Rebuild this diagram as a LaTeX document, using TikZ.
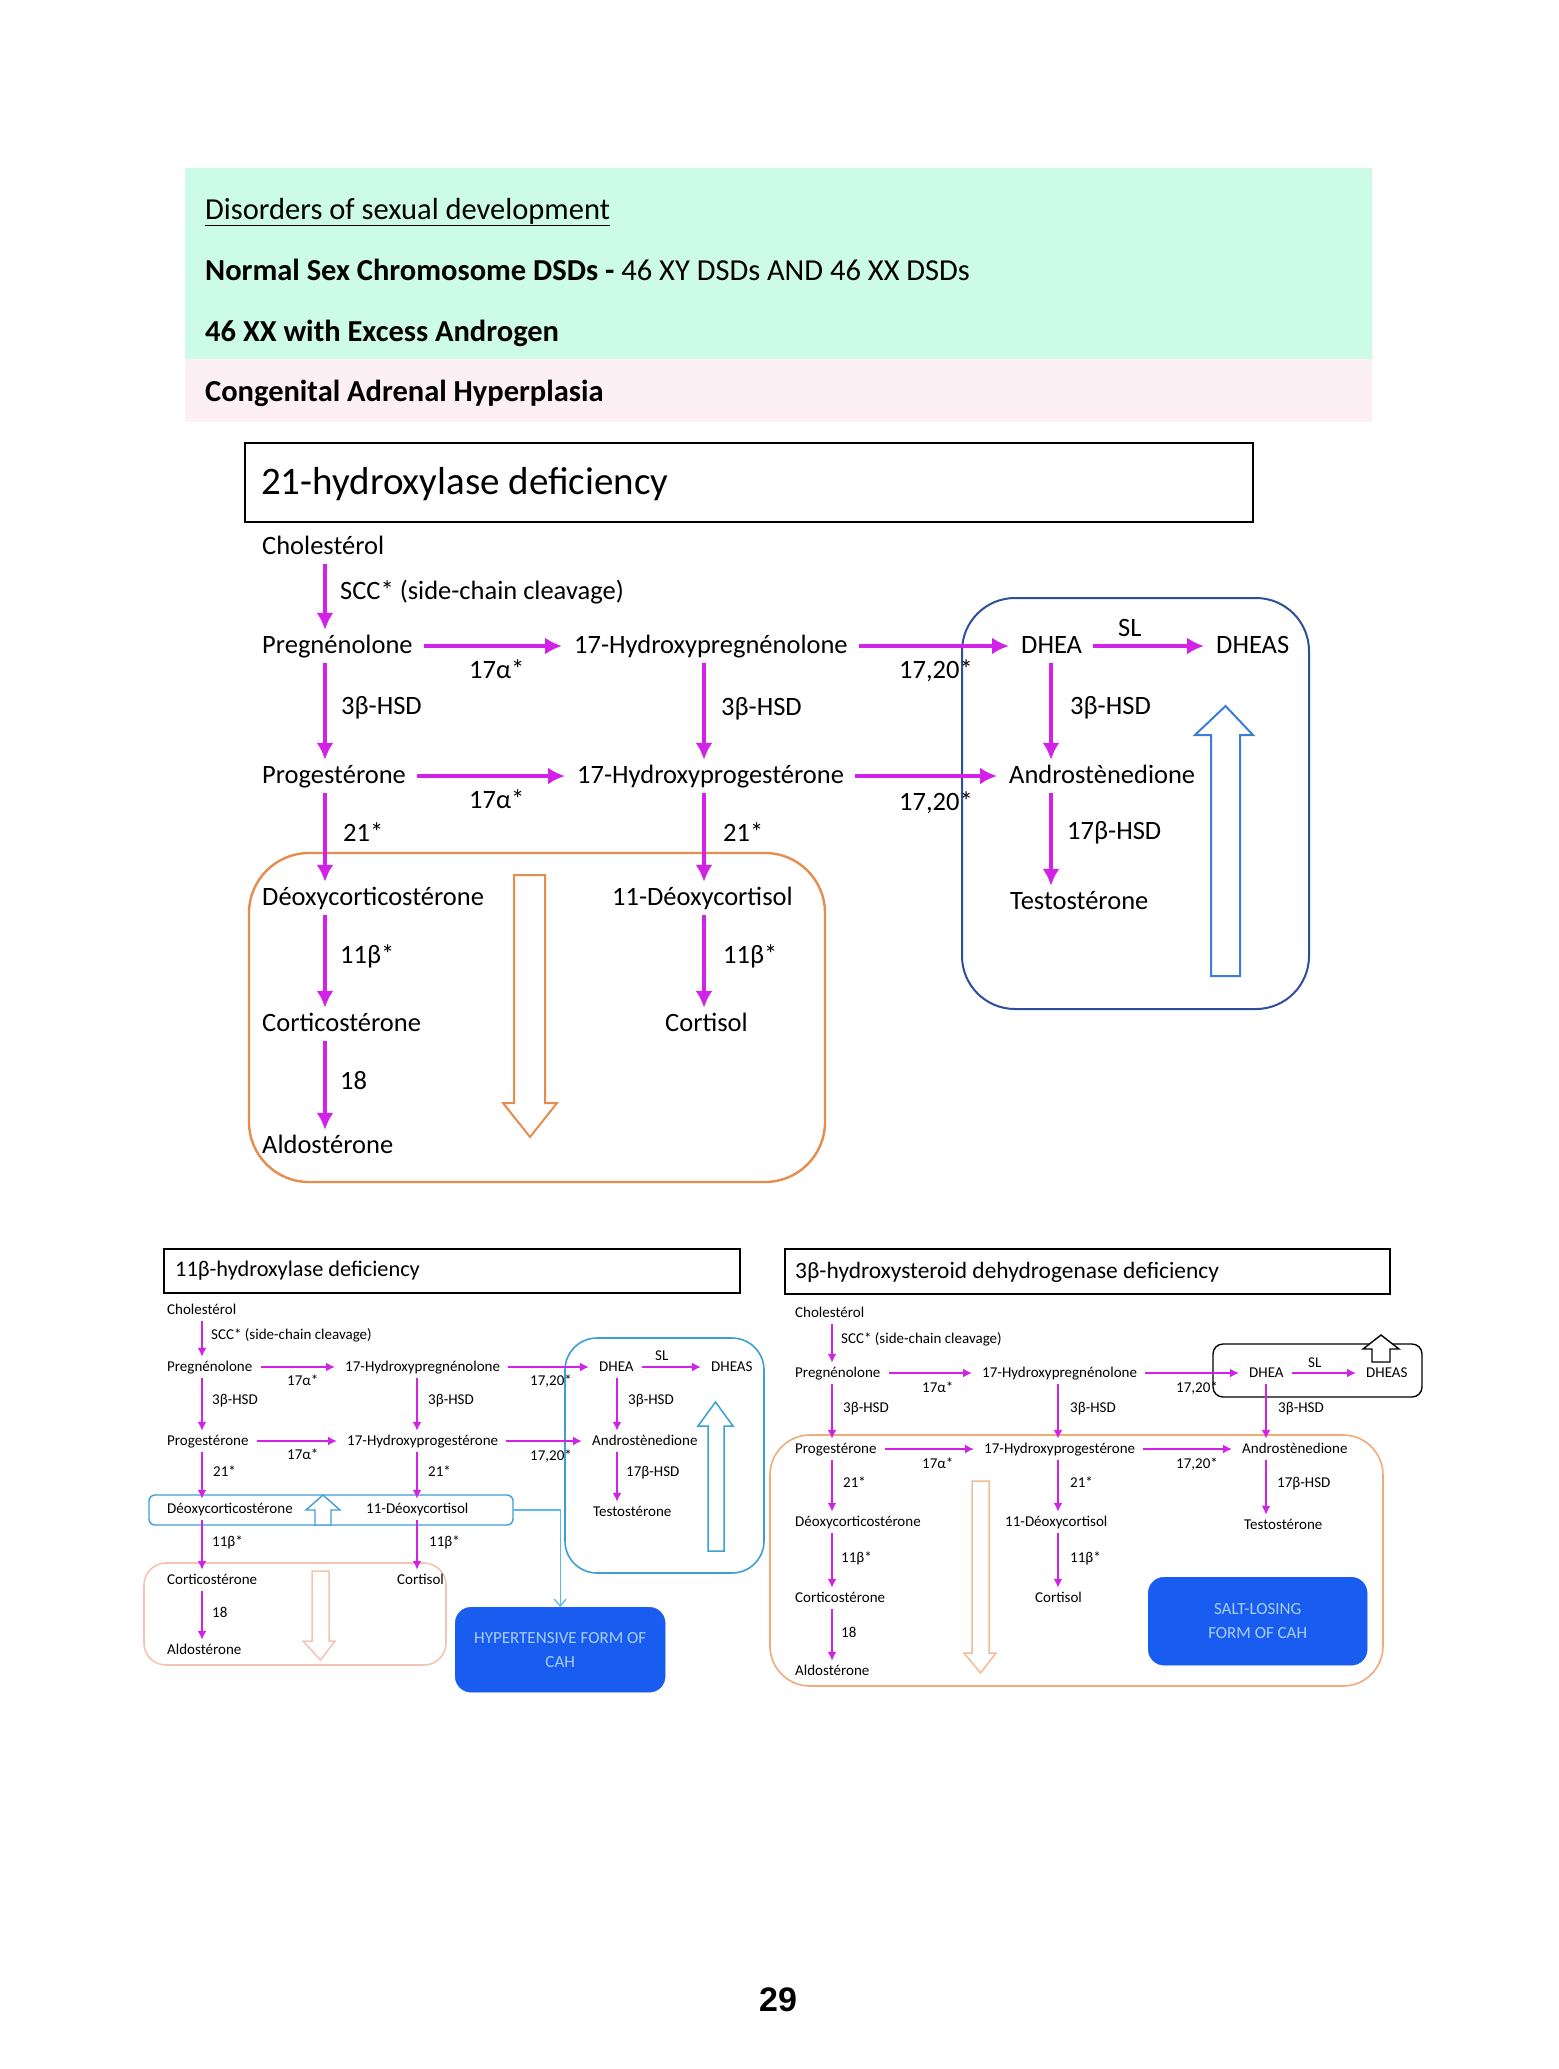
\documentclass[tikz,border=0pt]{standalone}
\usepackage{fontspec}
\setmainfont{Carlito}
\newfontfamily\arialfont{Liberation Sans}
\usetikzlibrary{arrows.meta}
\definecolor{mag}{RGB}{210,34,232}
\definecolor{hgreen}{RGB}{204,251,232}
\definecolor{hpink}{RGB}{253,240,245}
\definecolor{navybox}{RGB}{46,78,158}
\definecolor{orbox}{RGB}{232,140,78}
\definecolor{blarrow}{RGB}{60,125,216}
\definecolor{ltblue}{RGB}{62,158,214}
\definecolor{ltorange}{RGB}{244,196,178}
\definecolor{orbox3}{RGB}{240,170,122}
\definecolor{cahblue}{RGB}{24,92,240}
\definecolor{cahtext}{RGB}{170,205,252}
\begin{document}
\begin{tikzpicture}[x=1pt,y=-1pt,
  M/.style={anchor=west, inner sep=1pt, font=\fontsize{26.5}{30}\selectfont, text height=19pt, text depth=5pt},
  S/.style={anchor=west, inner sep=1pt, font=\fontsize{15}{18}\selectfont, text height=11pt, text depth=3pt},
  hd/.style={anchor=west, inner sep=1pt, font=\fontsize{30.5}{34}\selectfont, text height=22pt, text depth=6pt},
  am/.style={draw=mag, line width=3.2pt, -{Latex[length=17pt,width=17pt]}, shorten <=4pt, shorten >=3pt},
  ahm/.style={draw=mag, line width=3.2pt, -{Latex[length=17pt,width=17pt]}, shorten <=10pt, shorten >=11pt},
  as/.style={draw=mag, line width=1.8pt, -{Latex[length=9pt,width=9pt]}, shorten <=3pt, shorten >=2pt},
  ahs/.style={draw=mag, line width=1.8pt, -{Latex[length=9pt,width=9pt]}, shorten <=7pt, shorten >=9pt},
  cah/.style={fill=cahblue, draw=cahblue, rounded corners=16pt},
  cahtxt/.style={text=cahtext, align=center, font=\fontsize{17}{24}\selectfont, inner sep=0pt}
]
\useasboundingbox (0,0) rectangle (1558,2069);

% ---------------- header ----------------
\fill[hgreen] (185,168) rectangle (1372,359);
\fill[hpink] (185,359) rectangle (1372,422);
\node[hd] (h1) at (204,211) {\underline{Disorders of sexual development}};
\node[hd] (h2) at (204,272) {\textbf{Normal Sex Chromosome DSDs -} 46 XY DSDs AND 46 XX DSDs};
\node[hd] (h3) at (204,333) {\textbf{46 XX with Excess Androgen}};
\node[hd] (h4) at (204,393) {\textbf{Congenital Adrenal Hyperplasia}};

% ---------------- main: 21-hydroxylase ----------------
\draw[line width=1.6pt] (245,443) rectangle (1253,522);
\node[anchor=west, inner sep=0pt, font=\fontsize{39}{43}\selectfont] (t1) at (261,484) {21-hydroxylase deficiency};

\draw[navybox, line width=2pt, rounded corners=53pt] (962,598) rectangle (1309,1009);
\draw[orbox, line width=2.4pt, rounded corners=60pt] (249,853) rectangle (825,1182);
% hollow arrows
\draw[orbox, line width=2pt, fill=white] (514,875) -- (545,875) -- (545,1103) -- (557,1103) -- (530,1137) -- (503,1103) -- (514,1103) -- cycle;
\draw[blarrow, line width=2pt, fill=white] (1211,976) -- (1240,976) -- (1240,735) -- (1253,735) -- (1225.5,706) -- (1195,735) -- (1211,735) -- cycle;

\node[M] (chol) at (261,547) {Cholestérol};
\node[M] (preg) at (261,646) {Pregnénolone};
\node[M] (ohpreg) at (573,646) {17-Hydroxypregnénolone};
\node[M] (dhea) at (1020,646) {DHEA};
\node[M] (dheas) at (1215,646) {DHEAS};
\node[M] (prog) at (261,776) {Progestérone};
\node[M] (ohprog) at (576,776) {17-Hydroxyprogestérone};
\node[M] (andro) at (1008,776) {Androstènedione};
\node[M] (testo) at (1009,902) {Testostérone};
\node[M] (doc) at (261,898) {Déoxycorticostérone};
\node[M] (dc) at (611,898) {11-Déoxycortisol};
\node[M] (cortico) at (261,1024) {Corticostérone};
\node[M] (cortisol) at (664,1024) {Cortisol};
\node[M] (aldo) at (261,1146) {Aldostérone};

\node[M] (e1) at (339,592) {SCC* (side-chain cleavage)};
\node[M] (e2) at (468,671) {17α*};
\node[M] (e3) at (898,671) {17,20*};
\node[M] (e4) at (1117,629) {SL};
\node[M] (e5) at (340,707) {3β-HSD};
\node[M] (e6) at (720,708) {3β-HSD};
\node[M] (e7) at (1069,707) {3β-HSD};
\node[M] (e8) at (468,801) {17α*};
\node[M] (e9) at (898,803) {17,20*};
\node[M] (e10) at (1066,832) {17β-HSD};
\node[M] (e11) at (342,834) {21*};
\node[M] (e12) at (722,834) {21*};
\node[M] (e13) at (339,956) {11β*};
\node[M] (e14) at (722,956) {11β*};
\node[M] (e15) at (339,1082) {18};

\coordinate (ca) at (325,0);
\coordinate (cb) at (704,0);
\coordinate (cc) at (1051,0);
\draw[am] (chol.south -| ca) -- (preg.north -| ca);
\draw[am] (preg.south -| ca) -- (prog.north -| ca);
\draw[am] (prog.south -| ca) -- (doc.north -| ca);
\draw[am] (doc.south -| ca) -- (cortico.north -| ca);
\draw[am] (cortico.south -| ca) -- (aldo.north -| ca);
\draw[am] (ohpreg.south -| cb) -- (ohprog.north -| cb);
\draw[am] (ohprog.south -| cb) -- (dc.north -| cb);
\draw[am] (dc.south -| cb) -- (cortisol.north -| cb);
\draw[am] (dhea.south -| cc) -- (andro.north -| cc);
\draw[am] (andro.south -| cc) -- (testo.north -| cc);
\draw[ahm] (preg.east) -- (ohpreg.west);
\draw[ahm] (ohpreg.east) -- (dhea.west);
\draw[ahm] (dhea.east) -- (dheas.west);
\draw[ahm] (prog.east) -- (ohprog.west);
\draw[ahm] (ohprog.east) -- (andro.west);

% ---------------- 11beta-hydroxylase ----------------
\draw[line width=1.2pt] (164,1249) rectangle (740,1293);
\node[anchor=west, inner sep=0pt, font=\fontsize{22.3}{26}\selectfont] (t2) at (175,1271) {11β-hydroxylase deficiency};

\draw[ltblue, line width=1.6pt, rounded corners=32pt] (565,1338) rectangle (764,1573);
\draw[ltblue, line width=1.4pt, rounded corners=6pt, fill=white] (149,1495) rectangle (513,1525);
\draw[ltorange, line width=1.6pt, rounded corners=22pt] (144,1563) rectangle (446,1665);
\draw[ltblue, line width=1.5pt, fill=white] (708,1551) -- (724,1551) -- (724,1426) -- (733,1426) -- (715.5,1402) -- (698,1426) -- (708,1426) -- cycle;
\draw[ltblue, line width=1.4pt, fill=white] (315,1525) -- (331,1525) -- (331,1510) -- (340,1510) -- (323,1495) -- (306,1510) -- (315,1510) -- cycle;
\draw[ltorange, line width=1.5pt, fill=white] (312,1571) -- (329,1571) -- (329,1641) -- (335,1641) -- (320.5,1660) -- (303,1641) -- (312,1641) -- cycle;

\node[S] (chol2) at (166,1310) {Cholestérol};
\node[S] (preg2) at (166,1367) {Pregnénolone};
\node[S] (ohpreg2) at (344,1367) {17-Hydroxypregnénolone};
\node[S] (dhea2) at (598,1367) {DHEA};
\node[S] (dheas2) at (710,1367) {DHEAS};
\node[S] (prog2) at (166,1441) {Progestérone};
\node[S] (ohprog2) at (346,1441) {17-Hydroxyprogestérone};
\node[S] (andro2) at (591,1441) {Androstènedione};
\node[S] (doc2) at (166,1509) {Déoxycorticostérone};
\node[S] (dc2) at (365,1509) {11-Déoxycortisol};
\node[S] (testo2) at (592,1512) {Testostérone};
\node[S] (cortico2) at (166,1580) {Corticostérone};
\node[S] (cortisol2) at (396,1580) {Cortisol};
\node[S] (aldo2) at (166,1650) {Aldostérone};

\node[S] (f1) at (210,1335) {SCC* (side-chain cleavage)};
\node[S] (f2) at (286,1381) {17α*};
\node[S] (f3) at (529,1381) {17,20*};
\node[S] (f4) at (654,1356) {SL};
\node[S] (f5) at (211,1400) {3β-HSD};
\node[S] (f6) at (427,1400) {3β-HSD};
\node[S] (f7) at (627,1400) {3β-HSD};
\node[S] (f8) at (286,1455) {17α*};
\node[S] (f9) at (529,1456) {17,20*};
\node[S] (f10) at (625,1472) {17β-HSD};
\node[S] (f11) at (212,1472) {21*};
\node[S] (f12) at (427,1472) {21*};
\node[S] (f13) at (211,1542) {11β*};
\node[S] (f14) at (428,1542) {11β*};
\node[S] (f15) at (211,1613) {18};

\coordinate (da) at (202,0);
\coordinate (db) at (417,0);
\coordinate (dc) at (617,0);
\draw[as] (chol2.south -| da) -- (preg2.north -| da);
\draw[as] (preg2.south -| da) -- (prog2.north -| da);
\draw[as] (prog2.south -| da) -- (doc2.north -| da);
\draw[as] (doc2.south -| da) -- (cortico2.north -| da);
\draw[as] (cortico2.south -| da) -- (aldo2.north -| da);
\draw[as] (ohpreg2.south -| db) -- (ohprog2.north -| db);
\draw[as] (ohprog2.south -| db) -- (dc2.north -| db);
\draw[as] (dc2.south -| db) -- (cortisol2.north -| db);
\draw[as] (dhea2.south -| dc) -- (andro2.north -| dc);
\draw[as] (andro2.south -| dc) -- (testo2.north -| dc);
\draw[ahs] (preg2.east) -- (ohpreg2.west);
\draw[ahs] (ohpreg2.east) -- (dhea2.west);
\draw[ahs] (dhea2.east) -- (dheas2.west);
\draw[ahs] (prog2.east) -- (ohprog2.west);
\draw[ahs] (ohprog2.east) -- (andro2.west);

\coordinate (rowR) at (513,1510);
\node[cah, minimum width=210pt, minimum height=85pt, anchor=north west] (hyp) at (455,1607) {};
\node[cahtxt] (hyptxt) at (hyp.center) {HYPERTENSIVE FORM OF\\CAH};
\draw[color={rgb,255:red,90;green,185;blue,232}, line width=1.3pt, -{Straight Barb[length=7pt,width=12pt]}] (rowR) -| (hyp.north);

% ---------------- 3beta-HSD deficiency ----------------
\draw[line width=1.2pt] (785,1249) rectangle (1390,1294);
\node[anchor=west, inner sep=0pt, font=\fontsize{23.4}{27}\selectfont] (t3) at (795,1272) {3β-hydroxysteroid dehydrogenase deficiency};

\draw[orbox3, line width=1.6pt, rounded corners=40pt] (770,1435) rectangle (1383,1686);
\draw[black, line width=1.4pt, rounded corners=10pt] (1213,1344) rectangle (1422,1397);
\draw[black, line width=1.4pt, fill=white] (1372,1362) -- (1390,1362) -- (1390,1349) -- (1399,1349) -- (1381,1335) -- (1363,1349) -- (1372,1349) -- cycle;
\draw[orbox3!80, line width=1.5pt, fill=white] (972,1481) -- (989,1481) -- (989,1653) -- (996,1653) -- (980.5,1673) -- (964,1653) -- (972,1653) -- cycle;

\node[S] (chol3) at (794,1313) {Cholestérol};
\node[S] (preg3) at (794,1373) {Pregnénolone};
\node[S] (ohpreg3) at (981,1373) {17-Hydroxypregnénolone};
\node[S] (dhea3) at (1248,1373) {DHEA};
\node[S] (dheas3) at (1365,1373) {DHEAS};
\node[S] (prog3) at (794,1449) {Progestérone};
\node[S] (ohprog3) at (983,1449) {17-Hydroxyprogestérone};
\node[S] (andro3) at (1241,1449) {Androstènedione};
\node[S] (doc3) at (794,1522) {Déoxycorticostérone};
\node[S] (dc3) at (1004,1522) {11-Déoxycortisol};
\node[S] (testo3) at (1243,1525) {Testostérone};
\node[S] (cortico3) at (794,1598) {Corticostérone};
\node[S] (cortisol3) at (1034,1598) {Cortisol};
\node[S] (aldo3) at (794,1671) {Aldostérone};

\node[S] (g1) at (840,1339) {SCC* (side-chain cleavage)};
\node[S] (g2) at (921,1388) {17α*};
\node[S] (g3) at (1175,1388) {17,20*};
\node[S] (g4) at (1307,1363) {SL};
\node[S] (g5) at (842,1408) {3β-HSD};
\node[S] (g6) at (1069,1408) {3β-HSD};
\node[S] (g7) at (1277,1408) {3β-HSD};
\node[S] (g8) at (921,1464) {17α*};
\node[S] (g9) at (1175,1464) {17,20*};
\node[S] (g10) at (1276,1483) {17β-HSD};
\node[S] (g11) at (842,1483) {21*};
\node[S] (g12) at (1069,1483) {21*};
\node[S] (g13) at (840,1558) {11β*};
\node[S] (g14) at (1069,1558) {11β*};
\node[S] (g15) at (840,1633) {18};

\coordinate (fa) at (832,0);
\coordinate (fb) at (1058,0);
\coordinate (fc) at (1266,0);
\draw[as] (chol3.south -| fa) -- (preg3.north -| fa);
\draw[as] (preg3.south -| fa) -- (prog3.north -| fa);
\draw[as] (prog3.south -| fa) -- (doc3.north -| fa);
\draw[as] (doc3.south -| fa) -- (cortico3.north -| fa);
\draw[as] (cortico3.south -| fa) -- (aldo3.north -| fa);
\draw[as] (ohpreg3.south -| fb) -- (ohprog3.north -| fb);
\draw[as] (ohprog3.south -| fb) -- (dc3.north -| fb);
\draw[as] (dc3.south -| fb) -- (cortisol3.north -| fb);
\draw[as] (dhea3.south -| fc) -- (andro3.north -| fc);
\draw[as] (andro3.south -| fc) -- (testo3.north -| fc);
\draw[ahs] (preg3.east) -- (ohpreg3.west);
\draw[ahs] (ohpreg3.east) -- (dhea3.west);
\draw[ahs] (dhea3.east) -- (dheas3.west);
\draw[ahs] (prog3.east) -- (ohprog3.west);
\draw[ahs] (ohprog3.east) -- (andro3.west);

\node[cah, minimum width=219pt, minimum height=88pt, anchor=north west] (salt) at (1148,1577) {};
\node[cahtxt] (salttxt) at (salt.center) {SALT-LOSING\\FORM OF CAH};

% page number
\node[inner sep=0pt, font=\arialfont\bfseries\fontsize{34}{38}\selectfont] (pg) at (778,2000) {29};
\end{tikzpicture}
\end{document}
